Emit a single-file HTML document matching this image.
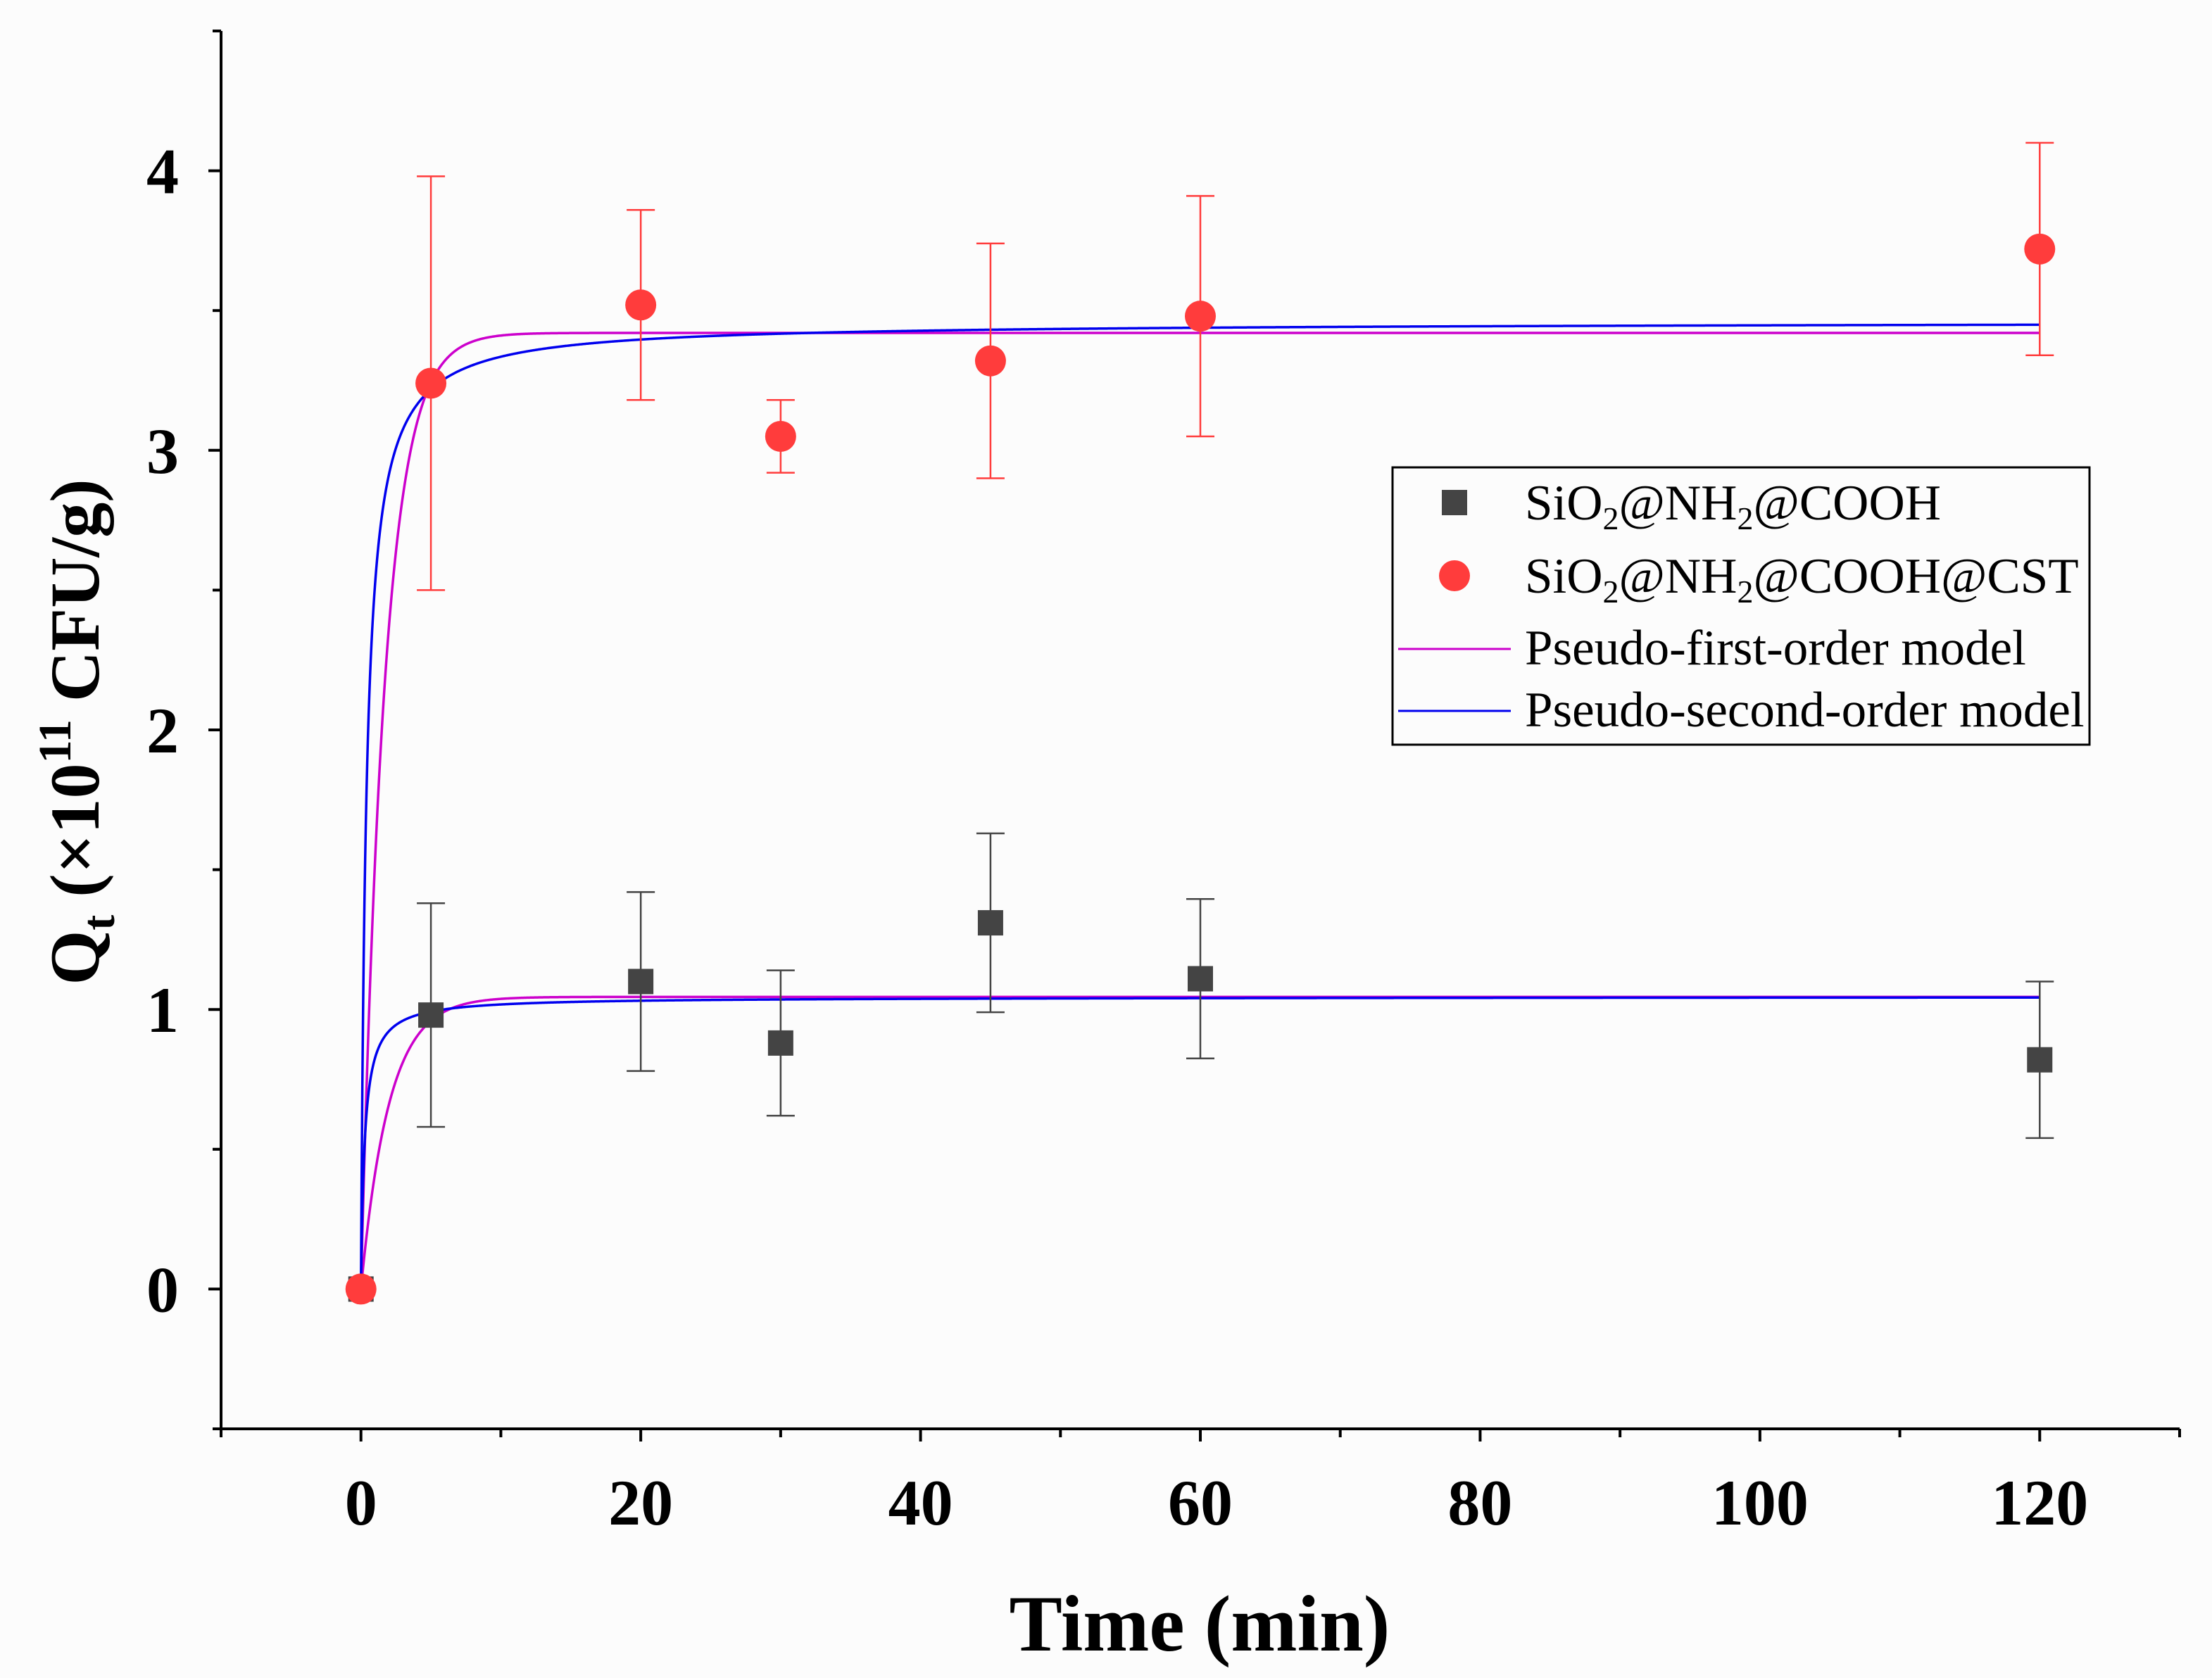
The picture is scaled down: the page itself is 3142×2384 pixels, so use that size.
<!DOCTYPE html>
<html><head><meta charset="utf-8"><style>
html,body{margin:0;padding:0;background:#fcfcfc;}
svg{display:block;font-family:"Liberation Serif",serif;}
</style></head><body>
<svg id="chart" width="3142" height="2384" viewBox="0 0 3142 2384" xmlns="http://www.w3.org/2000/svg">
<rect x="0" y="0" width="3142" height="2384" fill="#fcfcfc"/>
<g id="plot"></g>
<text x="1704" y="2345" text-anchor="middle" font-size="113" font-weight="bold">Time (min)</text>
<text transform="translate(140,1040) rotate(-90)" text-anchor="middle" font-size="100" font-weight="bold">Q<tspan font-size="66" dy="22">t</tspan><tspan dy="-22"> (×10</tspan><tspan font-size="66" dy="-40">11</tspan><tspan dy="40"> CFU/g)</tspan></text>
<g>
<rect x="1978" y="664" width="990" height="394" fill="#fcfcfc" stroke="#000" stroke-width="3"/>
<rect x="2048" y="696" width="36" height="36" fill="#444"/>
<text x="2166" y="738" font-size="71">SiO<tspan font-size="46" dy="14">2</tspan><tspan dy="-14">@NH</tspan><tspan font-size="46" dy="14">2</tspan><tspan dy="-14">@COOH</tspan></text>
<circle cx="2066" cy="818" r="22" fill="#ff3c3c"/>
<text x="2166" y="842" font-size="71">SiO<tspan font-size="46" dy="14">2</tspan><tspan dy="-14">@NH</tspan><tspan font-size="46" dy="14">2</tspan><tspan dy="-14">@COOH@CST</tspan></text>
<line x1="1986" y1="922" x2="2146" y2="922" stroke="#cc00cc" stroke-width="3"/>
<text x="2166" y="944" font-size="71">Pseudo-first-order model</text>
<line x1="1986" y1="1010" x2="2146" y2="1010" stroke="#0000ee" stroke-width="3"/>
<text x="2166" y="1032" font-size="71">Pseudo-second-order model</text>
</g>
</svg>
<script>
const times=[0,5,20,30,45,60,120];
const coohVals=[0,0.98,1.10,0.88,1.31,1.11,0.82];
const coohErr=[0,0.40,0.32,0.26,0.32,0.285,0.28];
const cstVals=[0,3.24,3.52,3.05,3.32,3.48,3.72];
const cstErr=[0,0.74,0.34,0.13,0.42,0.43,0.38];
const xTicks=[0,20,40,60,80,100,120];
const yTicks=[0,1,2,3,4];
const pfoParams=[[1.045,0.5],[3.42,0.59]];
const psoParams=[[1.045,3.6],[3.46,0.77]];

const X0=314,X1=3096,Y0=2030,Y1=44;
const xmin=-10,xmax=130,ymin=-0.5,ymax=4.5;
const sx=v=>X0+(v-xmin)/(xmax-xmin)*(X1-X0);
const sy=v=>Y0-(v-ymin)/(ymax-ymin)*(Y0-Y1);
const NS="http://www.w3.org/2000/svg";
const g=document.getElementById('plot');
function mk(tag,attrs,parent){const e=document.createElementNS(NS,tag);for(const k in attrs)e.setAttribute(k,attrs[k]);(parent||g).appendChild(e);return e;}

let e;
e=mk('line',{x1:X0,y1:Y0,x2:X1,y2:Y0,stroke:'#000','stroke-width':4});


e=mk('line',{x1:X0,y1:Y0,x2:X0,y2:Y1,stroke:'#000','stroke-width':4});


for(let v=-10;v<=130;v+=10){
  const major=v%20===0;
  e=mk('line',{x1:sx(v),y1:Y0,x2:sx(v),y2:Y0+(major?18:12),stroke:'#000','stroke-width':4});
  
  
}
xTicks.forEach(v=>{
  e=mk('text',{x:sx(v),y:2166,'text-anchor':'middle','font-size':92,'font-weight':'bold'});
  e.textContent=v;
  
  
});
for(let v=-0.5;v<=4.5001;v+=0.5){
  const major=Math.abs(v-Math.round(v))<1e-6;
  e=mk('line',{x1:X0,y1:sy(v),x2:X0-(major?18:12),y2:sy(v),stroke:'#000','stroke-width':4});
  
  
}
yTicks.forEach(v=>{
  e=mk('text',{x:254,y:sy(v)+32,'text-anchor':'end','font-size':92,'font-weight':'bold'});
  e.textContent=v;
  
  
});
function curve(f,color,name){
  let d='';
  for(let i=0;i<=2400;i++){const t=i*0.05;d+=(i?'L':'M')+sx(t).toFixed(2)+','+sy(f(t)).toFixed(2);}
  const p=mk('path',{d:d,fill:'none',stroke:color,'stroke-width':3.5});
  
  
}
pfoParams.forEach((p,i)=>curve(t=>p[0]*(1-Math.exp(-p[1]*t)),'#cc00cc',i?'pfo-curve-cst':'pfo-curve-cooh'));
psoParams.forEach((p,i)=>curve(t=>p[0]*p[0]*p[1]*t/(1+p[0]*p[1]*t),'#0000ee',i?'pso-curve-cst':'pso-curve-cooh'));
function errs(vals,errv,color,name){
  times.forEach((t,i)=>{
    if(!errv[i])return;
    const x=sx(t),a=sy(vals[i]+errv[i]),b=sy(vals[i]-errv[i]);
    e=mk('path',{d:`M${x},${a}L${x},${b}M${x-20},${a}L${x+20},${a}M${x-20},${b}L${x+20},${b}`,stroke:color,'stroke-width':2.5,fill:'none'});
    
    
  });
}
errs(coohVals,coohErr,'#444','error-bar-cooh');
errs(cstVals,cstErr,'#ff3c3c','error-bar-cst');
times.forEach((t,i)=>{
  e=mk('rect',{x:sx(t)-18,y:sy(coohVals[i])-18,width:36,height:36,fill:'#444'});
  
  
});
times.forEach((t,i)=>{
  e=mk('circle',{cx:sx(t),cy:sy(cstVals[i]),r:22,fill:'#ff3c3c'});
  
  
});
</script>
</body></html>
